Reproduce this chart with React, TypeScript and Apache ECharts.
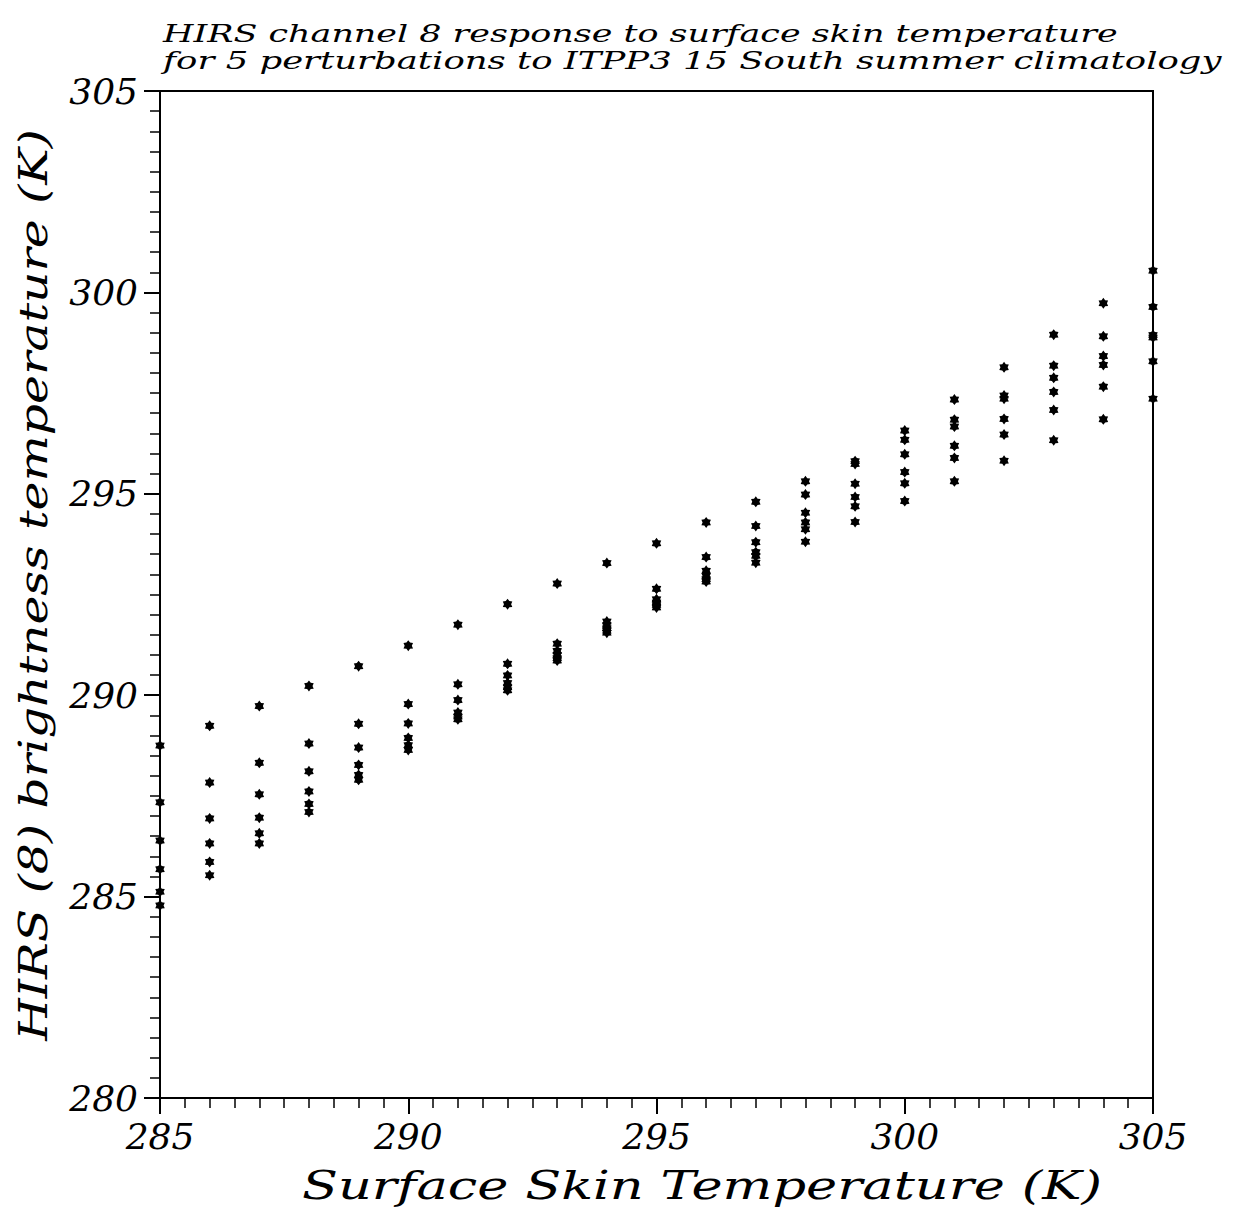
import React, { useEffect, useRef } from "react";
import * as echarts from "echarts";

// Surface skin temperature (K) — x positions of the columns
const SKIN_TEMPS = [285, 286, 287, 288, 289, 290, 291, 292, 293, 294, 295, 296, 297, 298, 299, 300, 301, 302, 303, 304, 305];

// Brightness temperatures (K), one array per rank within each column (highest to lowest)
const RUN_A = [288.75, 289.24, 289.73, 290.23, 290.72, 291.23, 291.75, 292.26, 292.77, 293.28, 293.77, 294.29, 294.80, 295.31, 295.81, 296.57, 297.34, 298.14, 298.95, 299.73, 300.54];
const RUN_B = [287.34, 287.83, 288.32, 288.80, 289.29, 289.78, 290.27, 290.78, 291.28, 291.83, 292.64, 293.43, 294.20, 294.98, 295.74, 296.34, 296.84, 297.44, 298.18, 298.91, 299.64];
const RUN_C = [286.39, 286.94, 287.54, 288.11, 288.70, 289.30, 289.88, 290.49, 291.10, 291.74, 292.38, 293.09, 293.80, 294.53, 295.25, 295.98, 296.67, 297.36, 297.88, 298.42, 298.94];
const RUN_D = [285.68, 286.32, 286.96, 287.61, 288.27, 288.94, 289.57, 290.30, 291.00, 291.66, 292.30, 292.96, 293.55, 294.29, 294.92, 295.54, 296.19, 296.86, 297.53, 298.20, 298.88];
const RUN_E = [285.12, 285.86, 286.57, 287.30, 288.02, 288.76, 289.47, 290.20, 290.92, 291.60, 292.24, 292.88, 293.46, 294.12, 294.69, 295.26, 295.89, 296.47, 297.08, 297.66, 298.29];
const RUN_F = [284.78, 285.53, 286.32, 287.10, 287.90, 288.64, 289.40, 290.12, 290.86, 291.55, 292.18, 292.82, 293.29, 293.81, 294.30, 294.82, 295.31, 295.82, 296.33, 296.85, 297.36];
const RUNS = [RUN_A, RUN_B, RUN_C, RUN_D, RUN_E, RUN_F];

const TITLE_LINE_1 = "HIRS channel 8 response to surface skin temperature";
const TITLE_LINE_2 = "for 5 perturbations to ITPP3 15 South summer climatology";
const X_NAME = "Surface Skin Temperature (K)";
const Y_NAME = "HIRS (8) brightness temperature (K)";

const X_MIN = 285, X_MAX = 305, Y_MIN = 280, Y_MAX = 305, STEP = 5;

const FAMILY = '"DejaVu Serif", serif';

// six-pointed star (asterisk-like) marker
const STAR =
  "path://M0,-10L3.25,-5.63L8.66,-5L6.5,0L8.66,5L3.25,5.63L0,10L-3.25,5.63L-8.66,5L-6.5,0L-8.66,-5L-3.25,-5.63Z";

function measure(text: string, font: string): number {
  const ctx = document.createElement("canvas").getContext("2d");
  if (!ctx) return text.length * 10;
  ctx.font = font;
  return ctx.measureText(text).width;
}

function stretchedText(
  text: string,
  size: number,
  x: number,
  y: number,
  targetWidth: number,
  align: string,
  rotation = 0
) {
  const font = `italic ${size}px ${FAMILY}`;
  const w = measure(text, font);
  return {
    type: "text",
    x,
    y,
    rotation,
    scaleX: targetWidth / w,
    style: {
      text,
      font,
      fill: "#000",
      align,
      verticalAlign: "middle",
    },
    silent: true,
  };
}

export default function App() {
  const ref = useRef<HTMLDivElement>(null);

  useEffect(() => {
    if (!ref.current) return;
    const chart = echarts.init(ref.current, undefined, { renderer: "svg" });

    const labelStyle = {
      fontFamily: FAMILY,
      fontStyle: "italic",
      fontSize: 36,
      color: "#000",
    };

    const series = RUNS.map((run, i) => ({
      type: "scatter",
      name: `run ${i + 1}`,
      data: SKIN_TEMPS.map((t, j) => [t, run[j]]),
      symbol: STAR,
      symbolSize: 11,
      symbolKeepAspect: true,
      itemStyle: { color: "#000", opacity: 1 },
      z: 5,
    }));

    chart.setOption({
      animation: false,
      backgroundColor: "#fff",
      grid: {
        left: 160,
        top: 91,
        width: 993,
        height: 1007,
        show: true,
        borderColor: "#000",
        borderWidth: 2,
        backgroundColor: "transparent",
      },
      xAxis: {
        type: "value",
        min: X_MIN,
        max: X_MAX,
        interval: STEP,
        axisLine: { show: true, lineStyle: { color: "#000", width: 2 } },
        axisTick: { show: true, length: 16, lineStyle: { color: "#000", width: 2 } },
        minorTick: { show: true, splitNumber: 10, length: 10, lineStyle: { color: "#000", width: 1.5 } },
        splitLine: { show: false },
        minorSplitLine: { show: false },
        axisLabel: { ...labelStyle, margin: 20 },
      },
      yAxis: {
        type: "value",
        min: Y_MIN,
        max: Y_MAX,
        interval: STEP,
        axisLine: { show: true, lineStyle: { color: "#000", width: 2 } },
        axisTick: { show: true, length: 16, lineStyle: { color: "#000", width: 2 } },
        minorTick: { show: true, splitNumber: 10, length: 10, lineStyle: { color: "#000", width: 1.5 } },
        splitLine: { show: false },
        minorSplitLine: { show: false },
        axisLabel: { ...labelStyle, margin: 22 },
      },
      graphic: [
        stretchedText(TITLE_LINE_1, 25, 163, 33, 955, "left"),
        stretchedText(TITLE_LINE_2, 25, 163, 60, 1059, "left"),
        stretchedText(X_NAME, 40, 702, 1185, 800, "center"),
        stretchedText(Y_NAME, 40, 34, 585, 912, "center", Math.PI / 2),
      ],
      series,
    });

    return () => chart.dispose();
  }, []);

  return (
    <div
      ref={ref}
      style={{ position: "absolute", left: 0, top: 0, width: 1243, height: 1214, background: "#fff" }}
    />
  );
}
